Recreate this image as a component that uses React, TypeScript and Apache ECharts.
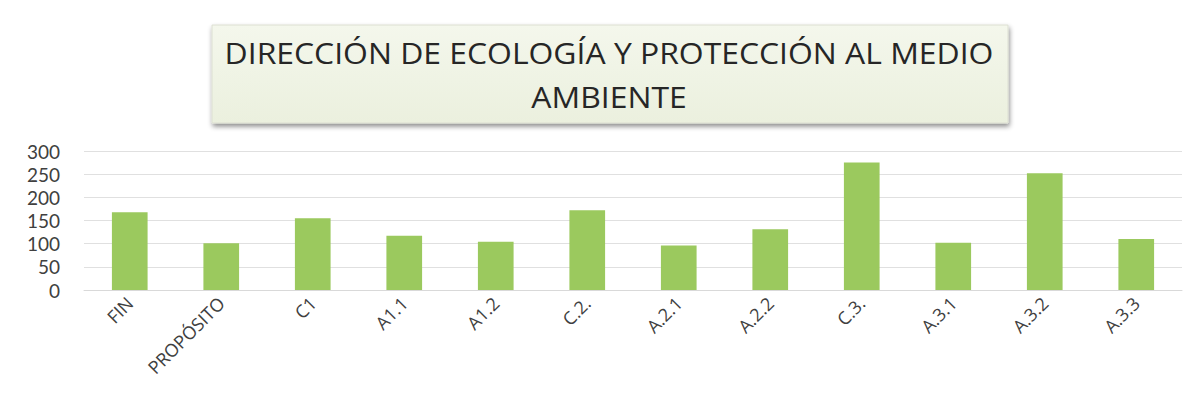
import React, { useEffect, useRef } from "react";
import * as echarts from "echarts";

const categories = ["FIN", "PROPÓSITO", "C1", "A1.1", "A1.2", "C.2.", "A.2.1", "A.2.2", "C.3.", "A.3.1", "A.3.2", "A.3.3"];
const values = [168, 101, 155, 117, 104, 172, 96, 131, 275, 102, 252, 110];
const titleLines = ["DIRECCIÓN DE ECOLOGÍA Y PROTECCIÓN AL MEDIO", "AMBIENTE"];

export default function App() {
  const ref = useRef<HTMLDivElement>(null);
  useEffect(() => {
    const chart = echarts.init(ref.current!, null, { renderer: "svg" });
    chart.setOption({
      animation: false,
      backgroundColor: "#ffffff",
      graphic: [
        {
          type: "rect",
          shape: { x: 204, y: 17, width: 796, height: 98 },
          style: {
            fill: new echarts.graphic.LinearGradient(0, 0, 0, 1, [
              { offset: 0, color: "#f4f7ec" },
              { offset: 1, color: "#ebf0de" },
            ]),
            stroke: "#dcdfd2",
            lineWidth: 1,
            shadowBlur: 5,
            shadowOffsetX: 1,
            shadowOffsetY: 3,
            shadowColor: "rgba(0,0,0,0.45)",
          },
          z: 1,
        },
        {
          type: "text",
          x: 601,
          y: 45,
          scaleX: 1.1,
          style: {
            text: titleLines[0],
            font: "29px 'Open Sans'",
            fill: "#262626",
            align: "center",
            verticalAlign: "middle",
          },
          z: 2,
        },
        {
          type: "text",
          x: 601,
          y: 89,
          scaleX: 1.1,
          style: {
            text: titleLines[1],
            font: "29px 'Open Sans'",
            fill: "#262626",
            align: "center",
            verticalAlign: "middle",
          },
          z: 2,
        },
      ],
      grid: { left: 76, right: 13, top: 143, bottom: 121, containLabel: false },
      xAxis: {
        type: "category",
        data: categories,
        axisLine: { show: true, lineStyle: { color: "#d9d9d9" } },
        axisTick: { show: false },
        axisLabel: {
          rotate: 45,
          interval: 0,
          margin: 10,
          fontFamily: "Open Sans",
          fontSize: 18,
          color: "#404040",
        },
      },
      yAxis: {
        type: "value",
        min: 0,
        max: 300,
        interval: 50,
        axisLine: { show: false },
        axisTick: { show: false },
        splitLine: { lineStyle: { color: "#e0e0e0" } },
        axisLabel: {
          fontFamily: "Lato",
          fontSize: 19,
          lineHeight: 19,
          color: "#404040",
          margin: 24,
        },
      },
      series: [
        {
          type: "bar",
          data: values,
          barWidth: "39%",
          itemStyle: { color: "#9bc95e" },
        },
      ],
    });
    return () => chart.dispose();
  }, []);
  return <div ref={ref} style={{ width: 1187, height: 403 }} />;
}
